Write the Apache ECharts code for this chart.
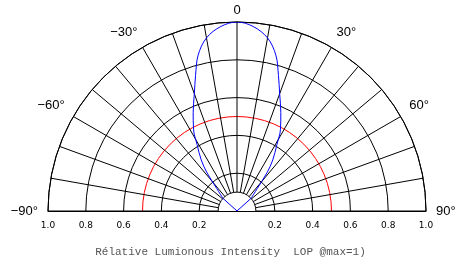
<!DOCTYPE html>
<html>
<head>
<meta charset="utf-8">
<script src="https://cdn.jsdelivr.net/npm/echarts@6/dist/echarts.min.js"></script>
<style>
  html, body { margin: 0; padding: 0; background: #fff; }
  #chart { width: 461px; height: 259px; }
</style>
</head>
<body>
<div id="chart"></div>
<script>
// 光强角度 (deg)
var beamAngles = [-90, -48, -42, -38, -35, -31, -28, -24, -20, -17, -14, -10, -5, 0, 5, 10, 14, 17, 20, 24, 28, 31, 35, 38, 42, 48, 90];
// 相对光强
var beamValues = [0, 0.10, 0.16, 0.26, 0.33, 0.41, 0.49, 0.57, 0.66, 0.75, 0.85, 0.93, 0.98, 1.0, 0.98, 0.93, 0.85, 0.75, 0.66, 0.57, 0.49, 0.41, 0.33, 0.26, 0.16, 0.10, 0];
// 圆环刻度 0,0.1...1.0 (只显示部分, 0.5 为红色)
var ringColors = ['transparent', '#000', '#000', 'transparent', '#000', '#ff0000', '#000', 'transparent', '#000', 'transparent', '#000'];

var CX = 237, CY = 211, R = 189;

var beamData = beamAngles.map(function (a, i) { return [beamValues[i], a]; });
var n = beamData.length;

var chart = echarts.init(document.getElementById('chart'));

var lineCommon = {
  type: 'line',
  coordinateSystem: 'polar',
  polarIndex: 0,
  showSymbol: false,
  lineStyle: { color: '#0000ff', width: 1 }
};

var option = {
  backgroundColor: '#fff',
  animation: false,
  title: {
    text: 'Rélative Lumionous Intensity  LOP @max=1)',
    left: 'center',
    top: 242,
    textStyle: { fontFamily: 'Liberation Mono', fontSize: 11, fontWeight: 'normal', color: '#555' }
  },
  polar: [
    { center: [CX, CY], radius: R },
    { center: [CX, CY], radius: [R * 0.1, R] }
  ],
  angleAxis: [{
    polarIndex: 0,
    type: 'value',
    min: -90,
    max: 90,
    interval: 30,
    startAngle: 180,
    endAngle: 0,
    clockwise: true,
    axisLine: { lineStyle: { color: '#000', width: 1 } },
    axisTick: { show: false },
    splitLine: { show: false },
    axisLabel: {
      margin: 10,
      color: '#000',
      fontFamily: 'Liberation Sans',
      fontSize: 13,
      formatter: function (v) {
        if (v === 0) return '{z|0}';
        return (v < 0 ? '\u2212' + (-v) : v) + '°';
      },
      rich: { z: { fontSize: 13, fontFamily: 'Liberation Sans', color: '#000', padding: [0, 0, -5, 0] } }
    }
  }, {
    polarIndex: 1,
    type: 'value',
    min: -90,
    max: 90,
    interval: 10,
    startAngle: 180,
    endAngle: 0,
    clockwise: true,
    axisLine: { show: false },
    axisTick: { show: false },
    axisLabel: { show: false },
    splitLine: { show: true, lineStyle: { color: '#000', width: 1 } }
  }],
  radiusAxis: [{
    polarIndex: 0,
    type: 'value',
    min: 0,
    max: 1,
    interval: 0.1,
    axisLine: { show: false },
    axisTick: { show: false },
    axisLabel: { show: false },
    splitLine: { show: true, lineStyle: { color: ringColors, width: 1 } }
  }, {
    polarIndex: 1,
    type: 'value',
    min: 0,
    max: 1,
    show: false
  }],
  grid: { left: CX - R, width: 2 * R, top: 0, height: CY },
  xAxis: {
    type: 'value',
    min: -1,
    max: 1,
    interval: 0.2,
    axisLine: { lineStyle: { color: '#000', width: 1 } },
    axisTick: { show: false },
    splitLine: { show: false },
    axisLabel: {
      margin: 10,
      color: '#000',
      fontFamily: 'DejaVu Sans',
      fontSize: 9,
      formatter: function (v) {
        if (Math.abs(v) < 1e-9) return '';
        return Math.abs(v).toFixed(1);
      }
    }
  },
  yAxis: { type: 'value', min: 0, max: 1, show: false },
  series: [
    // 主光束 (平滑)
    Object.assign({}, lineCommon, { smooth: 0.35, data: beamData.slice(1, n - 1) }),
    // 两侧到中心的直线段
    Object.assign({}, lineCommon, { data: beamData.slice(0, 2) }),
    Object.assign({}, lineCommon, { data: beamData.slice(n - 2) })
  ]
};

chart.setOption(option);
</script>
</body>
</html>
